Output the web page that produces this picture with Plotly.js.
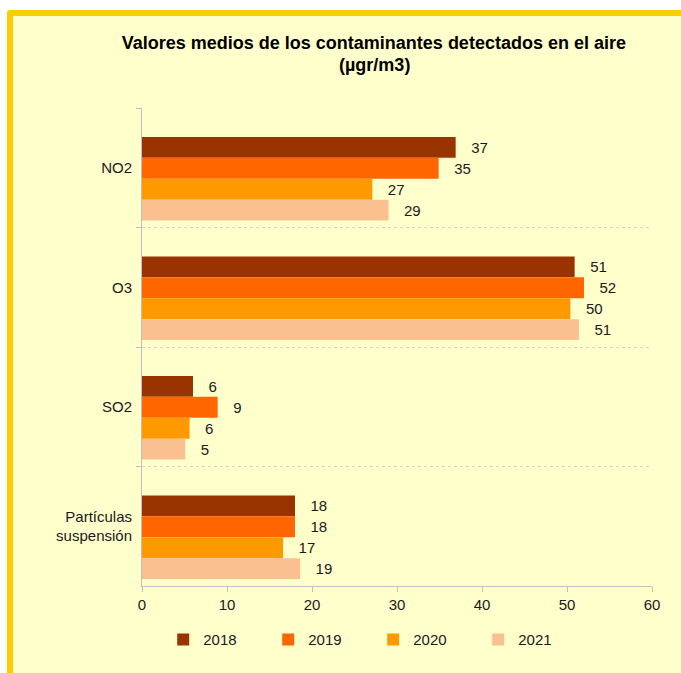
<!DOCTYPE html>
<html>
<head>
<meta charset="utf-8">
<script src="https://cdn.plot.ly/plotly-3.0.1.min.js"></script>
<style>
  html, body { margin:0; padding:0; background:#ffffff; width:681px; height:673px; overflow:hidden; }
  #panel { position:absolute; left:7px; top:10px; width:720px; height:720px; background:#FFFFCC;
           border-top:6px solid #FFCC00; border-left:6px solid #FFCC00; border-top-left-radius:4px; box-sizing:border-box; }
  #chart { position:absolute; left:0; top:0; width:681px; height:673px; }
</style>
</head>
<body>
<div id="panel"></div>
<div id="chart"></div>
<script>
const categories = ["NO2", "O3", "SO2", "Partículas<br>suspensión"];
const years = ["2018", "2019", "2020", "2021"];
const values2018 = [36.9, 50.9, 6.0, 18.0];
const values2019 = [34.9, 52.0, 8.9, 18.0];
const values2020 = [27.1, 50.4, 5.6, 16.6];
const values2021 = [29.0, 51.4, 5.1, 18.6];
const colors = ["#993300", "#FF6600", "#FF9900", "#FAC090"];
const seriesValues = [values2018, values2019, values2020, values2021];
const titleLine1 = "Valores medios de los contaminantes detectados en el aire";
const titleLine2 = "(µgr/m3)";

const FONT = "Liberation Sans, Arial, sans-serif";
const BAR_W = 0.175;
const FIRST_OFFSET = -0.258;

const traces = years.map((yr, i) => ({
  type: "bar",
  orientation: "h",
  name: yr,
  y: categories,
  x: seriesValues[i],
  width: BAR_W,
  offset: FIRST_OFFSET + i * BAR_W,
  marker: { color: colors[i], line: { width: 0 } },
  text: seriesValues[i].map(v => "\u00a0\u00a0\u00a0" + Math.round(v)),
  texttemplate: "%{text}",
  textposition: "outside",
  textfont: { family: FONT, size: 15, color: "#1a1a1a" },
  cliponaxis: false,
  hoverinfo: "x+name"
}));

const layout = {
  width: 681, height: 673,
  paper_bgcolor: "rgba(0,0,0,0)",
  plot_bgcolor: "rgba(0,0,0,0)",
  margin: { l: 142, r: 29, t: 108, b: 87, autoexpand: false },
  font: { family: FONT, size: 15, color: "#1a1a1a" },
  title: {
    text: "<b>" + titleLine1 + "</b>",
    font: { family: FONT, size: 18, color: "#000000" },
    x: 0.549, xanchor: "center", xref: "container",
    y: 0.9455, yanchor: "top", yref: "container"
  },
  annotations: [{
    text: "<b>" + titleLine2 + "</b>",
    xref: "paper", yref: "paper", x: 0.455, y: 1.089,
    xanchor: "center", yanchor: "middle", showarrow: false,
    font: { family: FONT, size: 18, color: "#000000" }
  }],
  barmode: "overlay",
  xaxis: {
    range: [0, 60], dtick: 10, tick0: 0,
    showgrid: false, zeroline: false,
    showline: true, linecolor: "#BFBFBF", linewidth: 1,
    ticks: "outside", ticklen: 5, tickcolor: "#BFBFBF",
    tickfont: { size: 15, color: "#1a1a1a" }, fixedrange: true
  },
  yaxis: {
    type: "category", autorange: "reversed",
    tickson: "boundaries",
    showgrid: true, gridcolor: "#D6D6D6", griddash: "dot", gridwidth: 1,
    showline: true, linecolor: "#BFBFBF", linewidth: 1,
    ticks: "outside", ticklen: 5, tickcolor: "#BFBFBF",
    ticklabelstandoff: 6,
    tickfont: { size: 15, color: "#1a1a1a" }, fixedrange: true
  },
  legend: {
    orientation: "h", x: 0.0416, xanchor: "left", y: -0.078, yanchor: "top",
    entrywidth: 60, entrywidthmode: "pixels",
    font: { size: 15, color: "#1a1a1a" },
    bgcolor: "rgba(0,0,0,0)", traceorder: "normal", itemclick: false
  },
  showlegend: true
};

Plotly.newPlot("chart", traces, layout, { displayModeBar: false, staticPlot: true });
</script>
</body>
</html>
